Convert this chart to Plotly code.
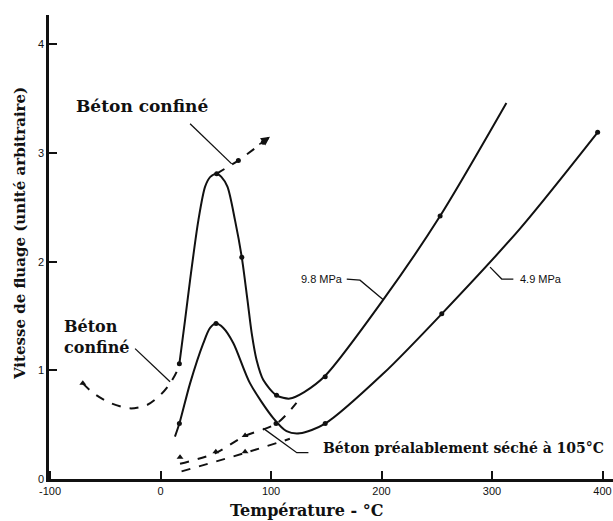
import plotly.graph_objects as go

# ---------------- data ----------------
# 9.8 MPa curve (confined concrete), low-temperature dashed part
t_low = [-70.4, -60.8, -45.7, -27.6, -12.5, -0.5, 8.6, 14.7, 17.0]
v_low = [0.88, 0.79, 0.70, 0.65, 0.68, 0.77, 0.88, 0.99, 1.06]

# 9.8 MPa curve, solid part
t_98 = [17.0, 22.0, 26.7, 34.2, 40.3, 45.0, 50.8, 55.0, 60.5, 67.4, 73.5, 78.6,
        82.5, 87.0, 93.0, 105.0, 117.0, 130.0, 149.0, 201.6, 253.0, 313.0]
v_98 = [1.06, 1.45, 1.83, 2.38, 2.69, 2.78, 2.81, 2.78, 2.69, 2.38, 2.04, 1.65,
        1.34, 1.09, 0.91, 0.77, 0.74, 0.80, 0.95, 1.65, 2.42, 3.46]
t_98_pts = [17.0, 50.8, 73.5, 105.0, 149.0, 253.0]
v_98_pts = [1.06, 2.81, 2.04, 0.77, 0.94, 2.42]

# 4.9 MPa curve
t_49 = [13.0, 17.0, 26.7, 38.7, 44.8, 50.2, 56.8, 65.9, 81.0, 102.0, 114.0,
        126.0, 149.0, 201.6, 254.5, 325.0, 395.6]
v_49 = [0.39, 0.51, 0.88, 1.25, 1.39, 1.43, 1.39, 1.25, 0.88, 0.56, 0.44,
        0.42, 0.51, 0.97, 1.52, 2.30, 3.19]
t_49_pts = [17.0, 50.2, 149.0, 254.5, 395.6]
v_49_pts = [0.51, 1.43, 0.51, 1.52, 3.19]

# confined concrete extension (dashed arrow)
t_conf = [50.8, 70.4, 93.0, 99.0]
v_conf = [2.81, 2.93, 3.10, 3.15]

# concrete pre-dried at 105 °C (two dashed curves)
t_dry1 = [17.6, 50.2, 75.0, 105.0, 123.0]
v_dry1 = [0.14, 0.24, 0.39, 0.51, 0.70]
t_dry2 = [19.0, 76.5, 117.0]
v_dry2 = [0.07, 0.24, 0.37]
t_dry_tri = [17.6, 50.0, 76.5, 76.5, -70.4]
v_dry_tri = [0.20, 0.25, 0.40, 0.25, 0.88]
t_dry_dot = [104.5]
v_dry_dot = [0.51]

x_ticks = [-100, 0, 100, 200, 300, 400]
x_ticktext = ["-100", "0", "100", "200", "300", "400"]
y_ticks = [0, 1, 2, 3, 4]

# ---------------- figure ----------------
BLACK = "#111111"
SERIF = "DejaVu Serif"
fig = go.Figure()

line_kw = dict(color=BLACK, width=2, shape="spline", smoothing=0.8)

fig.add_trace(go.Scatter(x=t_low, y=v_low, mode="lines",
                         line=dict(line_kw, dash="dash"), hoverinfo="skip"))
fig.add_trace(go.Scatter(x=t_98, y=v_98, mode="lines", line=line_kw))
fig.add_trace(go.Scatter(x=t_49, y=v_49, mode="lines", line=line_kw))
fig.add_trace(go.Scatter(x=t_conf, y=v_conf, mode="lines",
                         line=dict(color=BLACK, width=2, dash="dash")))
fig.add_trace(go.Scatter(x=t_dry1, y=v_dry1, mode="lines",
                         line=dict(line_kw, dash="dash")))
fig.add_trace(go.Scatter(x=t_dry2, y=v_dry2, mode="lines",
                         line=dict(line_kw, dash="dash")))

fig.add_trace(go.Scatter(x=t_98_pts + t_49_pts + t_dry_dot + t_conf[1:3],
                         y=v_98_pts + v_49_pts + v_dry_dot + v_conf[1:3],
                         mode="markers",
                         marker=dict(color=BLACK, size=5, symbol="circle")))
fig.add_trace(go.Scatter(x=t_dry_tri, y=v_dry_tri, mode="markers",
                         marker=dict(color=BLACK, size=6, symbol="triangle-up")))

# leader lines
leaders = [
    [(26.7, 3.27), (64.4, 2.90)],
    [(-23.1, 1.20), (8.6, 0.895)],
    [(168.5, 1.84), (180.5, 1.83), (201.6, 1.65)],
    [(319.3, 1.84), (308.8, 1.84), (298.2, 1.95)],
    [(93.0, 0.466), (123.3, 0.242), (133.8, 0.242)],
]
for pts in leaders:
    fig.add_trace(go.Scatter(x=[p[0] for p in pts], y=[p[1] for p in pts],
                             mode="lines", line=dict(color=BLACK, width=1.3)))

fig.add_annotation(x=99, y=3.15, ax=88, ay=3.07, xref="x", yref="y",
                   axref="x", ayref="y", text="", showarrow=True,
                   arrowhead=2, arrowsize=1.2, arrowwidth=1.5, arrowcolor=BLACK)

ann_font = dict(family=SERIF, size=17, color=BLACK)
fig.add_annotation(x=-17.2, y=3.43, text="<b>Béton confiné</b>", showarrow=False,
                   font=ann_font)
fig.add_annotation(x=-89, y=1.31, text="<b>Béton<br>confiné</b>", showarrow=False,
                   xanchor="left", align="left",
                   font=dict(family=SERIF, size=16, color=BLACK))
fig.add_annotation(x=145.5, y=0.285, text="<b>Béton préalablement séché à 105°C</b>",
                   showarrow=False, xanchor="left",
                   font=dict(family=SERIF, size=14, color=BLACK))
fig.add_annotation(x=146, y=1.84, text="9.8 MPa", showarrow=False,
                   font=dict(family="Liberation Sans", size=11, color=BLACK))
fig.add_annotation(x=344.3, y=1.84, text="4.9 MPa", showarrow=False,
                   font=dict(family="Liberation Sans", size=11, color=BLACK))

# axis titles as paper-positioned annotations
fig.add_annotation(x=(307 - 49) / 564, y=-(510 - 479) / 464, xref="paper",
                   yref="paper", xanchor="center", yanchor="middle",
                   text="<b>Température - °C</b>", showarrow=False,
                   font=dict(family=SERIF, size=16, color=BLACK))
fig.add_annotation(x=-(49 - 20) / 564, y=(479 - 234) / 464, xref="paper",
                   yref="paper", xanchor="center", yanchor="middle",
                   text="<b>Vitesse de fluage (unité arbitraire)</b>",
                   showarrow=False, textangle=-90,
                   font=dict(family=SERIF, size=15, color=BLACK))

fig.update_layout(
    width=613, height=521,
    margin=dict(l=49, r=0, t=15, b=42),
    paper_bgcolor="white", plot_bgcolor="white",
    showlegend=False,
    xaxis=dict(range=[-101, 409.5], tickvals=x_ticks, ticktext=x_ticktext,
               ticks="inside", ticklen=8, tickwidth=1.5, tickcolor=BLACK,
               showline=True, linecolor=BLACK, linewidth=2.5, showgrid=False,
               zeroline=False,
               tickfont=dict(family="Liberation Sans", size=11, color=BLACK)),
    yaxis=dict(range=[0, 4.27], tickvals=y_ticks,
               ticks="inside", ticklen=8, tickwidth=1.5, tickcolor=BLACK,
               showline=True, linecolor=BLACK, linewidth=2.5, showgrid=False,
               zeroline=False,
               tickfont=dict(family="Liberation Sans", size=11, color=BLACK)),
)

fig.write_html("out.html")
